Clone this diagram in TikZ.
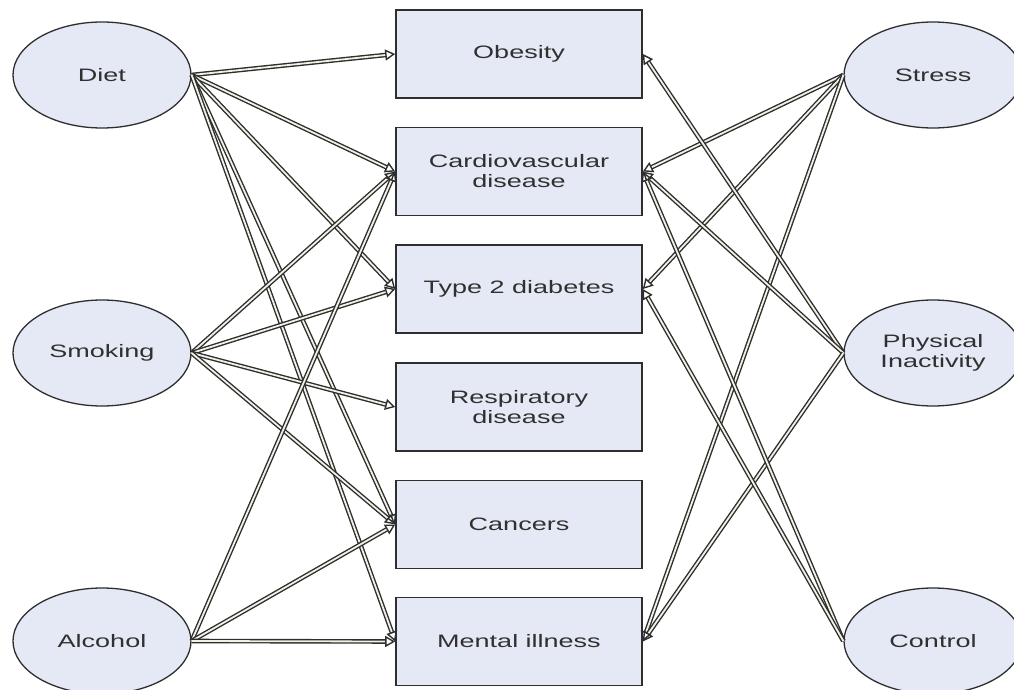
\documentclass[tikz,border=0pt]{standalone}
\usepackage{fontspec}
\usetikzlibrary{shapes.geometric,arrows.meta}
\newfontfamily\lblfont[FakeStretch=1.5]{Liberation Sans}
\definecolor{nodefill}{HTML}{E4E9F5}
\definecolor{edgecol}{HTML}{2E2E2E}
\definecolor{innercol}{HTML}{F2F1E6}
\definecolor{txtcol}{HTML}{303030}
\tikzset{
  factor/.style={ellipse, draw=edgecol, line width=1.3pt, fill=nodefill,
    minimum width=178pt, minimum height=106pt, inner sep=0pt,
    font=\lblfont\fontsize{18}{20}\selectfont, text=txtcol, align=center},
  disease/.style={rectangle, draw=edgecol, line width=1.6pt, fill=nodefill,
    minimum width=246pt, minimum height=88pt, inner sep=0pt,
    font=\lblfont\fontsize{18}{20}\selectfont, text=txtcol, align=center},
  link/.style={draw=edgecol, line width=1.4pt, double=innercol, double distance=1.8pt,
    -{Triangle[open, length=10pt, width=11pt]}}
}
\begin{document}
\begin{tikzpicture}[x=1pt,y=-1pt]
\useasboundingbox (0,0) rectangle (1014,690);
% risk factors (left)
\node[factor] (diet) at (102,75) {Diet};
\node[factor] (smoking) at (102,353) {Smoking};
\node[factor] (alcohol) at (102,641) {Alcohol};
% right factors
\node[factor] (stress) at (933,75) {Stress};
\node[factor] (phys) at (933,353) {Physical\\Inactivity};
\node[factor] (control) at (933,641) {Control};
% diseases
\node[disease] (obesity) at (519,54) {Obesity};
\node[disease] (cardio) at (519,171.5) {Cardiovascular\\disease};
\node[disease] (diab) at (519,289) {Type 2 diabetes};
\node[disease] (resp) at (519,407) {Respiratory\\disease};
\node[disease] (cancer) at (519,524.5) {Cancers};
\node[disease] (mental) at (519,641.5) {Mental illness};
% connectors from left
\draw[link] (diet.east) -- (obesity.west);
\draw[link] (diet.east) -- (cardio.west);
\draw[link] (diet.east) -- (diab.west);
\draw[link] (diet.east) -- (cancer.west);
\draw[link] (diet.east) -- (mental.west);
\draw[link] (smoking.east) -- (cardio.west);
\draw[link] (smoking.east) -- (diab.west);
\draw[link] (smoking.east) -- (resp.west);
\draw[link] (smoking.east) -- (cancer.west);
\draw[link] (alcohol.east) -- (cardio.west);
\draw[link] (alcohol.east) -- (cancer.west);
\draw[link] (alcohol.east) -- (mental.west);
% connectors from right
\draw[link] (stress.west) -- (cardio.east);
\draw[link] (stress.west) -- (diab.east);
\draw[link] (stress.west) -- (mental.east);
\draw[link] (phys.west) -- (obesity.east);
\draw[link] (phys.west) -- (cardio.east);
\draw[link] (phys.west) -- (mental.east);
\draw[link] (control.west) -- (cardio.east);
\draw[link] (control.west) -- (diab.east);
\end{tikzpicture}
\end{document}
